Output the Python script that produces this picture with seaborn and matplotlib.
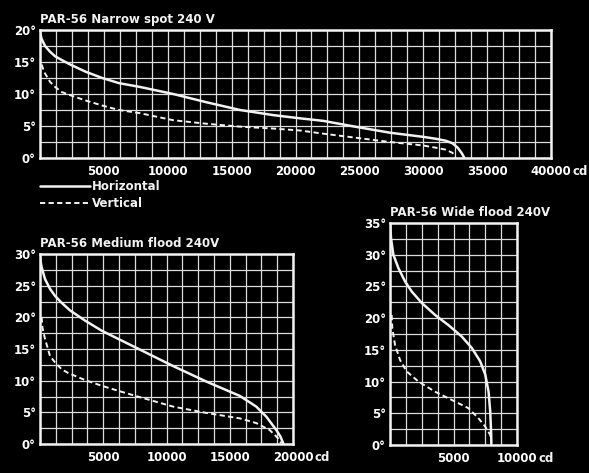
import matplotlib
matplotlib.use("Agg")
import matplotlib.pyplot as plt
import seaborn as sns
import numpy as np

# Beam curves: candela (cd) against angle (degrees)
narrow_h_cd = [0, 40, 130, 395, 790, 1180, 1710, 2370, 3550, 4870, 6180, 7830, 10430,
               13050, 15660, 18260, 20350, 22180, 24790, 27400, 30010, 31000, 31760,
               32290, 32700, 33030, 33220]
narrow_h_deg = [20, 19.3, 18.6, 17.5, 16.6, 15.9, 15.3, 14.6, 13.5, 12.5, 11.7, 11.1, 10.0,
                8.7, 7.5, 6.7, 6.2, 5.8, 4.85, 3.95, 3.3, 3.0, 2.7,
                2.3, 1.6, 0.7, 0]
narrow_v_cd = [130, 250, 395, 790, 1180, 1710, 2240, 3550, 4870, 6180, 7830, 10430, 13050,
               15660, 18260, 20350, 22180, 24790, 27400, 30010, 31000, 31760, 32290, 32550]
narrow_v_deg = [14.6, 13.9, 13.2, 11.9, 11.1, 10.3, 9.9, 9.0, 8.2, 7.5, 7.0, 5.9, 5.35,
                4.9, 4.6, 4.3, 3.8, 3.15, 2.5, 1.95, 1.6, 1.3, 0.8, 0]

medium_h_cd = [0, 40, 130, 395, 790, 1180, 1710, 2370, 3550, 4870, 6180, 7500, 10530,
               13160, 15790, 17100, 17900, 18680, 19000, 19250]
medium_h_deg = [29.7, 28.9, 27.9, 26.05, 24.5, 23.4, 22.3, 21.1, 19.5, 17.9, 16.6, 15.3, 12.3,
                9.85, 7.6, 5.9, 4.3, 2.2, 1.2, 0]
medium_v_cd = [130, 200, 395, 790, 1180, 1710, 2240, 3550, 4870, 6180, 7890, 10530, 13160,
               15790, 17100, 18160, 18820, 19080]
medium_v_deg = [20, 18.3, 16.6, 13.9, 12.9, 11.8, 11.2, 10.1, 9.2, 8.4, 7.4, 5.9, 4.9,
                4.05, 3.3, 2.2, 0.9, 0.1]

wide_h_cd = [0, 80, 263, 660, 1180, 1710, 2500, 3550, 4600, 5650, 6440, 7100, 7500,
             7760, 7890, 7970, 7980]
wide_h_deg = [35, 32.6, 30, 27.9, 25.8, 24.2, 22.4, 20.5, 18.9, 17.1, 15.3, 13.2, 11.1,
              8.4, 5.3, 1.6, 0]
wide_v_cd = [130, 184, 395, 790, 1315, 2240, 3550, 4870, 6180, 6970, 7500, 7890, 7970]
wide_v_deg = [20.5, 18.4, 15.8, 13.4, 11.6, 10, 8.4, 7.1, 5.8, 4.2, 2.9, 1.6, 0.5]

sns.set_theme(style="dark", rc={
    "figure.facecolor": "black",
    "axes.facecolor": "black",
    "axes.edgecolor": "white",
    "text.color": "white",
    "xtick.color": "white",
    "ytick.color": "white",
})
plt.rcParams["font.family"] = ["DejaVu Sans"]

FS = 8.5
WHITE = "#f2f2f2"


def draw_panel(ax, title, h_cd, h_deg, v_cd, v_deg, xmax, ymax, legend=False):
    sns.lineplot(x=h_cd, y=h_deg, ax=ax, sort=False, estimator=None, color=WHITE,
                 lw=1.8, solid_joinstyle="round",
                 label="Horizontal" if legend else None)
    sns.lineplot(x=v_cd, y=v_deg, ax=ax, sort=False, estimator=None, color=WHITE,
                 lw=1.4, linestyle=(0, (2.7, 1.7)),
                 label="Vertical" if legend else None)
    ax.set_xlim(0, xmax)
    ax.set_ylim(0, ymax)
    ax.set_xticks(np.arange(0, xmax + 1, 1250), minor=True)
    ax.set_yticks(np.arange(0, ymax + 0.1, 2.5), minor=True)
    xt = np.arange(5000, xmax + 1, 5000)
    ax.set_xticks(xt)
    ax.set_xticklabels([str(int(v)) for v in xt], fontsize=FS, fontweight="bold")
    yt = np.arange(0, ymax + 1, 5)
    ax.set_yticks(yt)
    ax.set_yticklabels([f"{int(v)}°" for v in yt], fontsize=FS, fontweight="bold")
    ax.grid(True, which="both", color="#dcdcdc", lw=0.9)
    ax.tick_params(which="both", length=0)
    ax.tick_params(axis="x", pad=5)
    ax.tick_params(axis="y", pad=3)
    for s in ax.spines.values():
        s.set_visible(True)
        s.set_color(WHITE)
        s.set_linewidth(1.8)
    ax.set_xlabel("")
    ax.set_ylabel("")
    ax.set_title(title, loc="left", fontsize=FS, fontweight="bold", color=WHITE, pad=5)
    # unit after the last tick label, on the same line
    ax.annotate("cd", xy=(1, 0), xycoords="axes fraction", xytext=(15.5, -5),
                textcoords="offset points", ha="left", va="top",
                fontsize=FS, fontweight="bold", color=WHITE)


fig = plt.figure(figsize=(5.89, 4.73), dpi=100)

ax1 = fig.add_axes([40 / 589, 1 - 158 / 473, 511 / 589, 128 / 473])
draw_panel(ax1, "PAR-56 Narrow spot 240 V", narrow_h_cd, narrow_h_deg,
           narrow_v_cd, narrow_v_deg, 40000, 20, legend=True)
leg = ax1.legend(loc="upper left", bbox_to_anchor=(0, -0.17), frameon=False,
                 handlelength=4.2, handletextpad=0.2, borderaxespad=0, borderpad=0,
                 labelspacing=0.35, prop={"size": FS, "weight": "bold"})
for t in leg.get_texts():
    t.set_color(WHITE)

ax2 = fig.add_axes([40 / 589, 1 - 444 / 473, 253 / 589, 190 / 473])
draw_panel(ax2, "PAR-56 Medium flood 240V", medium_h_cd, medium_h_deg,
           medium_v_cd, medium_v_deg, 20000, 30)

ax3 = fig.add_axes([390 / 589, 1 - 445 / 473, 127 / 589, 222 / 473])
draw_panel(ax3, "PAR-56 Wide flood 240V", wide_h_cd, wide_h_deg,
           wide_v_cd, wide_v_deg, 10000, 35)

fig.savefig("out.png", dpi=100, facecolor="black")
